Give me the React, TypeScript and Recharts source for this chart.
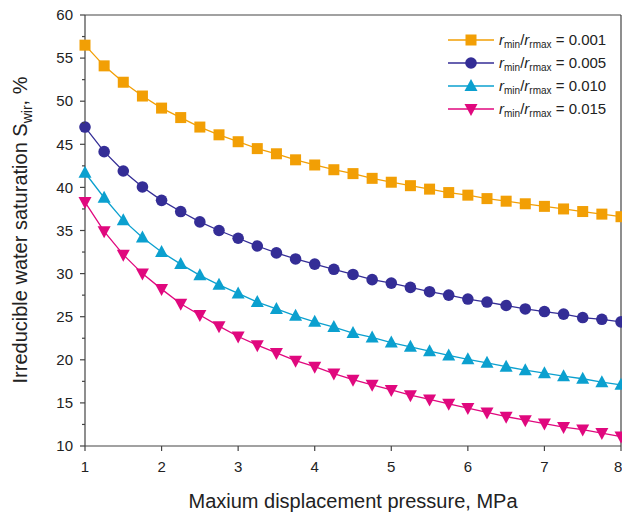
import React from 'react';
import { LineChart, Line, XAxis, YAxis, ReferenceLine } from 'recharts';

const pressure = [1, 1.25, 1.5, 1.75, 2, 2.25, 2.5, 2.75, 3, 3.25, 3.5, 3.75, 4, 4.25, 4.5, 4.75, 5, 5.25, 5.5, 5.75, 6, 6.25, 6.5, 6.75, 7, 7.25, 7.5, 7.75, 8];

const ratio001 = [56.5, 54.1, 52.2, 50.6, 49.2, 48.1, 47.0, 46.1, 45.3, 44.5, 43.9, 43.2, 42.6, 42.05, 41.6, 41.05, 40.6, 40.2, 39.8, 39.4, 39.1, 38.7, 38.4, 38.1, 37.8, 37.5, 37.2, 36.9, 36.6];
const ratio005 = [47.0, 44.15, 41.9, 40.05, 38.5, 37.2, 36.0, 35.0, 34.1, 33.2, 32.4, 31.7, 31.1, 30.5, 29.9, 29.3, 28.9, 28.4, 27.9, 27.5, 27.05, 26.7, 26.3, 25.9, 25.6, 25.3, 24.9, 24.7, 24.4];
const ratio010 = [41.7, 38.8, 36.2, 34.2, 32.5, 31.1, 29.8, 28.7, 27.7, 26.7, 25.9, 25.1, 24.4, 23.8, 23.1, 22.6, 22.0, 21.5, 21.0, 20.5, 20.05, 19.65, 19.2, 18.8, 18.45, 18.1, 17.8, 17.4, 17.1];
const ratio015 = [38.3, 34.9, 32.2, 30.0, 28.2, 26.5, 25.2, 23.9, 22.7, 21.7, 20.8, 19.9, 19.2, 18.4, 17.7, 17.1, 16.5, 15.9, 15.4, 14.9, 14.4, 13.9, 13.4, 13.0, 12.6, 12.2, 11.9, 11.5, 11.1];

const xTicks = [1, 2, 3, 4, 5, 6, 7, 8];
const yTicks = [10, 12.5, 15, 17.5, 20, 22.5, 25, 27.5, 30, 32.5, 35, 37.5, 40, 42.5, 45, 47.5, 50, 52.5, 55, 57.5, 60];

const series = [
  { key: 'r001', label: '0.001', color: '#F29F05', shape: 'square' },
  { key: 'r005', label: '0.005', color: '#342D96', shape: 'circle' },
  { key: 'r010', label: '0.010', color: '#0BA0CF', shape: 'triangle' },
  { key: 'r015', label: '0.015', color: '#E0087E', shape: 'down' },
];

const data = pressure.map((p, i) => ({
  p,
  r001: ratio001[i],
  r005: ratio005[i],
  r010: ratio010[i],
  r015: ratio015[i],
}));

const AXIS = '#444';
const FONT = '"Liberation Sans", Arial, sans-serif';

function Marker({ cx, cy, shape, color }: any) {
  if (cx == null || cy == null) return null;
  if (shape === 'square') return <rect x={cx - 5.5} y={cy - 5.5} width={11} height={11} fill={color} />;
  if (shape === 'circle') return <circle cx={cx} cy={cy} r={5.8} fill={color} />;
  if (shape === 'triangle')
    return <polygon points={`${cx},${cy - 7} ${cx - 6.5},${cy + 5} ${cx + 6.5},${cy + 5}`} fill={color} />;
  return <polygon points={`${cx},${cy + 7} ${cx - 6.5},${cy - 5} ${cx + 6.5},${cy - 5}`} fill={color} />;
}

// y ticks: major every 5 with a label, minor at the half steps
function YTick({ x, y, payload }: any) {
  const v = payload.value;
  const major = v % 5 === 0;
  const ax = x + 10;
  return (
    <g>
      <line x1={ax - (major ? 5 : 3)} x2={ax} y1={y} y2={y} stroke={AXIS} strokeWidth={1.2} />
      {major && (
        <text x={ax - 12} y={y} dy="0.35em" textAnchor="end" fontSize={15} fill="#222" fontFamily={FONT}>
          {v}
        </text>
      )}
    </g>
  );
}

function YTitle() {
  return (
    <text
      transform="translate(27,230) rotate(-90)"
      textAnchor="middle"
      fontSize={20}
      fill="#222"
      fontFamily={FONT}
    >
      Irreducible water saturation S<tspan fontSize={14} dy={5}>wir</tspan>
      <tspan dy={-5}>, %</tspan>
    </text>
  );
}

function LegendBox() {
  return (
    <svg width={180} height={100} style={{ position: 'absolute', left: 440, top: 28 }}>
      {series.map((s, i) => {
        const y = 12 + i * 23;
        return (
          <g key={s.key}>
            <line x1={8} x2={54} y1={y} y2={y} stroke={s.color} strokeWidth={1.5} />
            <Marker cx={31} cy={y} shape={s.shape} color={s.color} />
            <text x={59} y={y} dy="0.35em" fontSize={15} fill="#222" fontFamily={FONT}>
              <tspan fontStyle="italic">r</tspan>
              <tspan fontSize={10} dy={3}>min</tspan>
              <tspan dy={-3}>/</tspan>
              <tspan fontStyle="italic">r</tspan>
              <tspan fontSize={10} dy={3}>rmax</tspan>
              <tspan dy={-3}> = {s.label}</tspan>
            </text>
          </g>
        );
      })}
    </svg>
  );
}

export default function App() {
  return (
    <div style={{ position: 'absolute', left: 0, top: 0, width: 622, height: 517, background: '#fff' }}>
      <LineChart width={622} height={517} data={data} margin={{ top: 15, right: 1, left: 0, bottom: 0 }}>
        <XAxis
          dataKey="p"
          type="number"
          domain={[1, 8]}
          ticks={xTicks}
          height={71}
          stroke={AXIS}
          strokeWidth={1.2}
          tickSize={5}
          tickMargin={10}
          tick={{ fontSize: 15, fill: '#222', fontFamily: FONT }}
          label={{ value: 'Maxium displacement pressure, MPa', position: 'insideBottom', offset: 9, fontSize: 20, fill: '#222', fontFamily: FONT }}
        />
        <YAxis
          type="number"
          domain={[10, 60]}
          ticks={yTicks}
          width={85}
          stroke={AXIS}
          strokeWidth={1.2}
          tickLine={false}
          tickSize={6}
          tickMargin={4}
          interval={0}
          tick={<YTick />}
          label={<YTitle />}
        />
        <ReferenceLine y={60} stroke={AXIS} strokeWidth={1.2} />
        <ReferenceLine x={8} stroke={AXIS} strokeWidth={1.2} />
        {series.map((s) => (
          <Line
            key={s.key}
            dataKey={s.key}
            stroke={s.color}
            strokeWidth={1.3}
            isAnimationActive={false}
            dot={(props: any) => <Marker key={`${s.key}-${props.index}`} cx={props.cx} cy={props.cy} shape={s.shape} color={s.color} />}
            activeDot={false}
          />
        ))}
      </LineChart>
      <LegendBox />
    </div>
  );
}
